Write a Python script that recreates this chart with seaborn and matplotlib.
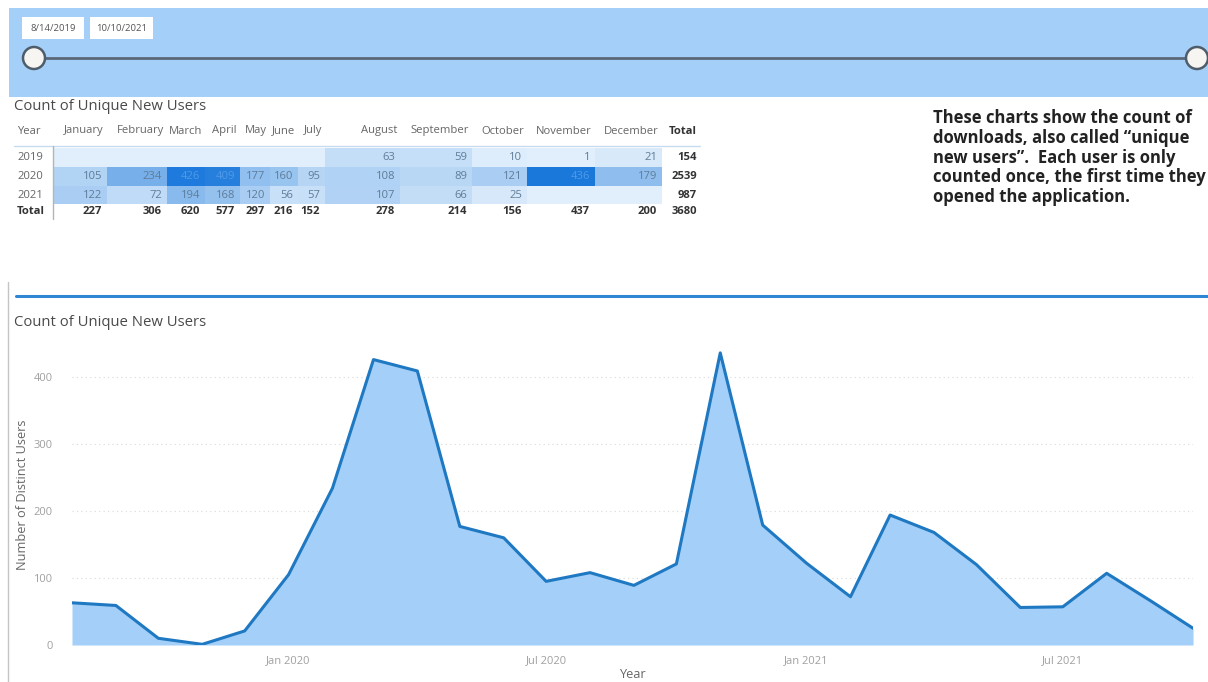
import numpy as np
import pandas as pd
import matplotlib
matplotlib.use('Agg')
import matplotlib.pyplot as plt
import matplotlib.dates as mdates
from matplotlib.colors import LinearSegmentedColormap, Normalize
from matplotlib.patches import Rectangle, Circle
import seaborn as sns

# data
months = ['2019-08', '2019-09', '2019-10', '2019-11', '2019-12',
          '2020-01', '2020-02', '2020-03', '2020-04', '2020-05', '2020-06',
          '2020-07', '2020-08', '2020-09', '2020-10', '2020-11', '2020-12',
          '2021-01', '2021-02', '2021-03', '2021-04', '2021-05', '2021-06',
          '2021-07', '2021-08', '2021-09', '2021-10']
new_users = [63, 59, 10, 1, 21,
             105, 234, 426, 409, 177, 160, 95, 108, 89, 121, 436, 179,
             122, 72, 194, 168, 120, 56, 57, 107, 66, 25]
month_names = ['January', 'February', 'March', 'April', 'May', 'June', 'July',
               'August', 'September', 'October', 'November', 'December']
years = [2019, 2020, 2021]
slicer_dates = ['8/14/2019', '10/10/2021']
note = ('These charts show the count of\n'
        'downloads, also called \u201cunique\n'
        'new users\u201d.  Each user is only\n'
        'counted once, the first time they\n'
        'opened the application.')

df = pd.DataFrame({'month': pd.to_datetime(months), 'users': new_users})
df['year'] = df['month'].dt.year
df['mon'] = df['month'].dt.month
table = df.pivot(index='year', columns='mon', values='users').reindex(index=years, columns=range(1, 13))

sns.set_theme(style='white')
plt.rcParams['font.family'] = ['Open Sans', 'DejaVu Sans']

fig = plt.figure(figsize=(12.08, 6.82), dpi=100)
bg = fig.add_axes([0, 0, 1, 1])
bg.set_xlim(0, 1208)
bg.set_ylim(682, 0)
bg.axis('off')

## slicer band
blue_light = '#a3cff8'
bg.add_patch(Rectangle((9, 8), 1199, 89, color=blue_light, lw=0))
for (x0, w), lab in zip([(22, 62), (90, 63)], slicer_dates):
    bg.add_patch(Rectangle((x0, 17), w, 22, color='white', lw=0))
    bg.text(x0 + w / 2, 28.5, lab, ha='center', va='center', fontsize=6.8, color='#555555')
bg.plot([34, 1197], [58, 58], color='#5a6878', lw=2, solid_capstyle='butt', zorder=2)
for cx in [34, 1197]:
    bg.add_patch(Circle((cx, 58), 11, facecolor='#f7f5f1', edgecolor='#4f5d6b', lw=1.8, zorder=3))

## table
title_kw = dict(fontsize=10.7, color='#4a4a4a', ha='left', va='center')
bg.text(14, 106, 'Count of Unique New Users', **title_kw)

col_edges = [53, 107, 167, 205, 240, 270, 298, 325, 400, 472, 527, 595, 662]
row_edges = [148, 167, 186, 204]
total_right = 697
row_y = [157.5, 176.5, 195]
total_y = 212
fs = 8.1

cmap = LinearSegmentedColormap.from_list('pbi', ['#e1effc', '#1a78db'])
cmap.set_bad('#e1effc')
norm = Normalize(0, table.max().max())
bg.pcolormesh(col_edges, row_edges, np.ma.masked_invalid(table.values), cmap=cmap, norm=norm)

hdr_kw = dict(fontsize=fs, color='#666666', va='center')
bg.text(17, 131, 'Year', ha='left', **hdr_kw)
for i, m in enumerate(month_names):
    bg.text(col_edges[i + 1] - 3, 131, m, ha='right', **hdr_kw)
bg.text(total_right, 131, 'Total', ha='right', fontweight='bold', fontsize=fs, color='#333333', va='center')
bg.plot([14, 700], [146, 146], color='#c7dbee', lw=1)
bg.plot([53, 53], [146, 219], color='#b5b5b5', lw=1)

for r, yr in enumerate(years):
    bg.text(17, row_y[r], str(yr), ha='left', va='center', fontsize=fs, color='#666666')
    for c in range(12):
        v = table.values[r, c]
        if np.isnan(v):
            continue
        tc = '#4f9be8' if v > 300 else '#5f7c98'
        bg.text(col_edges[c + 1] - 5, row_y[r], f'{int(v)}', ha='right', va='center', fontsize=fs, color=tc)
    bg.text(total_right, row_y[r], f'{int(np.nansum(table.values[r]))}', ha='right', va='center',
            fontsize=fs, fontweight='bold', color='#333333')

bg.text(17, total_y, 'Total', ha='left', va='center', fontsize=fs, fontweight='bold', color='#333333')
col_tot = table.sum(axis=0).astype(int)
for c in range(12):
    bg.text(col_edges[c + 1] - 5, total_y, f'{col_tot.iloc[c]}', ha='right', va='center',
            fontsize=fs, fontweight='bold', color='#333333')
bg.text(total_right, total_y, f'{int(np.nansum(table.values))}', ha='right', va='center',
        fontsize=fs, fontweight='bold', color='#333333')

## note
bg.text(933, 109, note, ha='left', va='top', fontsize=12, fontweight='bold', color='#222222',
        family=['Open Sans', 'DejaVu Sans'], linespacing=1.13)

## divider + border
bg.plot([16, 1208], [296, 296], color='#2f86d3', lw=2.2)
bg.plot([8, 8], [282, 682], color='#c4c4c4', lw=1)
bg.text(14, 323, 'Count of Unique New Users', **title_kw)

## area chart
ax = fig.add_axes([72 / 1208, 1 - 645 / 682, (1193 - 72) / 1208, (645 - 343.5) / 682])
ax.fill_between(df['month'], df['users'], color=blue_light, lw=0, zorder=1)
sns.lineplot(data=df, x='month', y='users', ax=ax, color='#1f78c2', lw=2.2, zorder=3)
ax.set_xlim(df['month'].iloc[0], df['month'].iloc[-1])
ax.set_ylim(0, 450)
ax.set_yticks([0, 100, 200, 300, 400])
ax.set_xticks(pd.to_datetime(['2020-01-01', '2020-07-01', '2021-01-01', '2021-07-01']))
ax.xaxis.set_major_formatter(mdates.DateFormatter('%b %Y'))
ax.tick_params(axis='both', length=0, labelsize=8, labelcolor='#a0a0a0')
ax.tick_params(axis='y', pad=14)
ax.tick_params(axis='x', pad=7)
ax.yaxis.grid(True, linestyle=(0, (1, 3)), color='#d9d9d9', lw=0.8)
ax.set_axisbelow(True)
for s in ax.spines.values():
    s.set_visible(False)
ax.patch.set_alpha(0)
ax.set_ylabel('Number of Distinct Users', fontsize=9.2, color='#666666')
ax.set_xlabel('Year', fontsize=9.2, color='#666666')
ax.yaxis.set_label_coords(-0.038, 0.5)
ax.xaxis.set_label_coords(0.5, -0.075)

fig.savefig('out.png', dpi=100)
